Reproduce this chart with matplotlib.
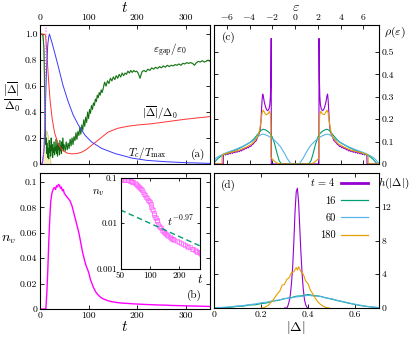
import numpy as np
import matplotlib
matplotlib.use('Agg')
import matplotlib.pyplot as plt
from matplotlib.lines import Line2D
from matplotlib.ticker import NullLocator

plt.rcParams['font.family'] = 'serif'
plt.rcParams['font.serif'] = ['cmr10']
plt.rcParams['mathtext.fontset'] = 'cm'
plt.rcParams['axes.formatter.use_mathtext'] = True
plt.rcParams['font.size'] = 7
plt.rcParams['xtick.direction'] = 'in'
plt.rcParams['ytick.direction'] = 'in'
plt.rcParams['xtick.major.size'] = 3
plt.rcParams['ytick.major.size'] = 3
plt.rcParams['xtick.major.width'] = 0.6
plt.rcParams['ytick.major.width'] = 0.6
plt.rcParams['axes.linewidth'] = 0.8

# ---- panel (a): gap, order parameter, temperature vs t
gap_t = np.r_[0, 3, 6, np.arange(8, 50), np.arange(50, 130, 2), np.arange(130, 200, 3), np.arange(202, 351, 4)]
gap_v = [1.0, 1.0, 0.99,
         0.9, 0.7, 0.45, 0.25, 0.15, 0.2, 0.08, 0.16, 0.05, 0.12,
         0.04, 0.18, 0.09, 0.14, 0.06, 0.2, 0.1, 0.15, 0.05, 0.12,
         0.09, 0.17, 0.07, 0.13, 0.1, 0.19, 0.08, 0.14, 0.06, 0.16,
         0.11, 0.13, 0.07, 0.18, 0.1, 0.14, 0.08, 0.17, 0.12, 0.2,
         0.1, 0.15,
         0.14, 0.1, 0.17, 0.11, 0.16, 0.12, 0.19, 0.14, 0.2, 0.15,
         0.21, 0.18, 0.24, 0.19, 0.25, 0.22, 0.28, 0.23, 0.3, 0.26,
         0.34, 0.29, 0.36, 0.32, 0.4, 0.35, 0.42, 0.39, 0.45, 0.42,
         0.47, 0.45, 0.5, 0.48, 0.53, 0.51, 0.55, 0.53, 0.57, 0.55,
         0.58, 0.63, 0.6, 0.64, 0.62, 0.66, 0.64, 0.67,
         0.65, 0.68, 0.66, 0.69, 0.67, 0.7, 0.68, 0.7,
         0.69, 0.715, 0.7, 0.72, 0.705, 0.72, 0.71, 0.715,
         0.7, 0.66, 0.71, 0.72, 0.71, 0.73, 0.72, 0.74, 0.73, 0.745,
         0.735, 0.75, 0.74, 0.755, 0.745, 0.76, 0.75, 0.76, 0.755, 0.765,
         0.76, 0.77, 0.76, 0.775, 0.77, 0.78, 0.775, 0.78, 0.775, 0.76,
         0.78, 0.79, 0.785, 0.795, 0.785, 0.79, 0.8, 0.79]

delta_t = [0, 8, 11.5, 14, 16, 18.5, 21, 25, 30, 37, 45, 55, 65, 75, 85,
           95, 105, 115, 125, 140, 160, 180, 200, 230, 260, 300, 350]
delta_v = [1.0, 1.0, 0.99, 0.87, 0.74, 0.6, 0.48, 0.35, 0.24, 0.16, 0.11, 0.085, 0.078, 0.08, 0.09,
           0.11, 0.14, 0.17, 0.2, 0.245, 0.275, 0.29, 0.3, 0.31, 0.325, 0.345, 0.365]

temp_t = [0, 5, 8, 10, 12, 14, 16, 18, 19.5, 21, 25, 30, 37, 47, 58, 68, 79, 93, 106, 127,
          155, 190, 220, 257, 300, 350]
temp_v = [0, 0.01, 0.1, 0.28, 0.55, 0.78, 0.92, 0.98, 1.0, 0.98, 0.93, 0.86, 0.76, 0.61, 0.48,
          0.38, 0.3, 0.22, 0.17, 0.12, 0.08, 0.045, 0.028, 0.018, 0.01, 0.005]

dot_t = [5, 8, 9.5, 10.5, 11.3, 12, 12.6]
dot_v = [0, 0.1, 0.3, 0.5, 0.7, 0.9, 1.1]

fill_t = [3, 6, 10, 13, 16, 19, 22]
fill_v = [0, 0.08, 0.2, 0.26, 0.22, 0.1, 0]

# ---- panel (b): vortex density
nv_t = np.r_[0, 12, 14, 16, 18, 20, 22, 24, 26, 28, 30, np.arange(32, 121, 2),
             np.arange(123, 151, 3), 155, 160, 165, 170, 175, 180, np.arange(190, 351, 10)]
nv_v = [0, 0, 0.012, 0.03, 0.052, 0.07, 0.084, 0.09, 0.093, 0.095, 0.0955,
        0.094, 0.097, 0.096, 0.098, 0.0975, 0.095, 0.096, 0.093, 0.094, 0.091,
        0.09, 0.089, 0.088, 0.087, 0.086, 0.085, 0.083, 0.081, 0.078, 0.075,
        0.072, 0.069, 0.066, 0.063, 0.06, 0.056, 0.052, 0.048, 0.044, 0.041,
        0.038, 0.035, 0.033, 0.031, 0.029, 0.026, 0.023, 0.021, 0.019, 0.017,
        0.0155, 0.014, 0.0128, 0.0118, 0.011,
        0.0098, 0.0089, 0.0082, 0.0077, 0.0072, 0.0068, 0.0064, 0.0061, 0.0058, 0.0056,
        0.0053, 0.005, 0.0048, 0.0046, 0.0045, 0.0044,
        0.0041, 0.0039, 0.0037, 0.0035, 0.0034, 0.0032, 0.0031, 0.003, 0.0028, 0.0027,
        0.0026, 0.0025, 0.0024, 0.0023, 0.0022, 0.0021, 0.002]
fit_t = [50, 330]
fit_v = [0.0195, 0.0032]

# ---- panel (c): density of states (positive half, mirrored)
p_e = np.r_[0, 2.09, 2.1, 2.13, 2.17, 2.22, 2.3, 2.4, 2.5, 2.6, 2.7, 2.8, 2.85, 2.9, 2.95,
            3.0, 3.05, 3.1, 3.2, 3.3, np.arange(3.4, 6.35, 0.1), 6.31, 7.4]
p_v = [0, 0, 0.56, 0.38, 0.3, 0.265, 0.245, 0.238, 0.242, 0.255, 0.275, 0.305, 0.312, 0.285, 0.24,
       0.19, 0.16, 0.145, 0.13, 0.12,
       0.105, 0.1, 0.095, 0.088, 0.085, 0.078, 0.08, 0.072, 0.075, 0.068,
       0.071, 0.063, 0.066, 0.058, 0.062, 0.055, 0.06, 0.052, 0.057, 0.05,
       0.055, 0.047, 0.053, 0.045, 0.05, 0.042, 0.048, 0.04, 0.045, 0.042, 0, 0]
g_e = [0, 1.2, 1.4, 1.6, 1.8, 2.0, 2.2, 2.4, 2.6, 2.8, 3.0, 3.2, 3.4, 3.6, 3.8,
       4.0, 4.4, 4.8, 5.2, 5.6, 6.0, 6.4, 6.7, 6.9, 7.1, 7.25, 7.4]
g_v = [0, 0, 0.015, 0.05, 0.09, 0.12, 0.137, 0.146, 0.152, 0.155, 0.15, 0.138, 0.125, 0.113, 0.103,
       0.095, 0.083, 0.072, 0.063, 0.055, 0.047, 0.038, 0.028, 0.018, 0.006, 0, 0]
b_e = [0, 0.35, 0.5, 0.7, 0.9, 1.1, 1.3, 1.5, 1.8, 2.1, 2.4, 2.7, 2.9, 3.1, 3.3,
       3.5, 3.8, 4.2, 4.6, 5.0, 5.4, 5.8, 6.2, 6.6, 6.9, 7.1, 7.3, 7.4]
b_v = [0, 0, 0.01, 0.025, 0.045, 0.062, 0.078, 0.09, 0.105, 0.117, 0.126, 0.132, 0.133, 0.128, 0.12,
       0.112, 0.1, 0.09, 0.079, 0.07, 0.062, 0.055, 0.047, 0.037, 0.028, 0.018, 0.005, 0]
o_e = [0, 1.4, 1.6, 1.8, 2.0, 2.12, 2.13, 2.16, 2.25, 2.35, 2.5, 2.6, 2.7, 2.8, 2.9,
       3.0, 3.1, 3.2, 3.3, 3.4, 3.6, 3.8, 4.0, 4.3, 4.6, 5.0, 5.4, 5.8, 6.2, 6.4, 6.42, 7.4]
o_v = [0, 0, 0.005, 0.012, 0.022, 0.03, 0.17, 0.22, 0.235, 0.226, 0.22, 0.222, 0.232, 0.24, 0.228,
       0.19, 0.155, 0.135, 0.122, 0.113, 0.1, 0.09, 0.084, 0.075, 0.068, 0.06, 0.055, 0.05, 0.045, 0.04, 0, 0]

# ---- panel (d): histograms of |Delta|
hp_x = [0.30, 0.31, 0.315, 0.32, 0.325, 0.33, 0.335, 0.34, 0.345, 0.35,
        0.355, 0.36, 0.365, 0.37, 0.375, 0.38, 0.385, 0.39, 0.395, 0.40]
hp_v = [0, 0, 0.3, 0.8, 1.6, 3.0, 5.0, 8.0, 11.5, 13.8, 14.2, 12.5, 9.5, 6.5, 4.0, 2.2, 1.0, 0.4, 0.1, 0]
hb_x = np.linspace(0, 0.7, 29)
hg_v = [0.0, 0.03, 0.06, 0.1, 0.2, 0.22, 0.35, 0.38, 0.52, 0.6, 0.82, 0.9, 1.12, 1.2, 1.4,
        1.45, 1.6, 1.48, 1.4, 1.22, 1.05, 0.88, 0.72, 0.55, 0.42, 0.28, 0.18, 0.1, 0.05]
hc_v = [0.0, 0.06, 0.1, 0.16, 0.24, 0.3, 0.4, 0.48, 0.62, 0.7, 0.86, 0.95, 1.1, 1.18, 1.32,
        1.38, 1.5, 1.42, 1.38, 1.2, 1.1, 0.9, 0.76, 0.6, 0.45, 0.32, 0.2, 0.12, 0.06]
ho_x = [0.20, 0.21, 0.22, 0.23, 0.24, 0.25, 0.26, 0.27, 0.28, 0.29, 0.30, 0.31, 0.32, 0.33, 0.34,
        0.35, 0.355, 0.36, 0.37, 0.38, 0.39, 0.40, 0.41, 0.42, 0.43, 0.44, 0.45, 0.46, 0.47, 0.48, 0.49]
ho_v = [0, 0.02, 0.15, 0.3, 0.6, 0.85, 1.3, 1.7, 2.0, 2.7, 2.8, 3.4, 3.6, 4.2, 4.3,
        4.8, 4.5, 4.9, 4.3, 4.0, 3.2, 2.9, 2.1, 1.7, 1.2, 0.8, 0.5, 0.3, 0.12, 0.05, 0]
labels_d = ['$t\\,=\\,4$', '16', '60', '180']

c_purple = '#9400d3'
c_teal = '#009e73'
c_blue = '#56b4e9'
c_orange = '#e69f00'

W, H = 411, 337
fig = plt.figure(figsize=(W / 100, H / 100), dpi=100)


def box(x0, y0, x1, y1):
    return [x0 / W, 1 - y1 / H, (x1 - x0) / W, (y1 - y0) / H]


def mirror(e, v):
    e = np.asarray(e, float)
    return np.r_[-e[::-1], e], np.r_[np.asarray(v)[::-1], v]


# (a)
ax = fig.add_axes(box(40, 25, 210, 164))
ax.fill_between(fill_t, 0, fill_v, color='#f6efc0', lw=0.4, edgecolor='#c8b860')
ax.plot(gap_t, gap_v, color='#5cb85c', lw=1.0, alpha=0.7)
ax.plot(gap_t, gap_v, color='#116611', lw=0.6)
ax.plot(delta_t, delta_v, color='#ff3333', lw=0.7)
ax.plot(temp_t, temp_v, color='#3a3aff', lw=0.7)
ax.plot(dot_t, dot_v, color='#ff44ff', lw=0.8, ls=':')
ax.set_xlim(0, 350)
ax.set_ylim(0, 1.07)
ax.set_xticks([0, 100, 200, 300])
ax.set_xticklabels(['0', '100', '200', '300'])
ax.set_yticks([0, 0.2, 0.4, 0.6, 0.8, 1.0])
ax.set_yticklabels(['0', '0.2', '0.4', '0.6', '0.8', '1.0'])
ax.tick_params(top=True, right=True, labeltop=True, labelbottom=False, pad=2)
ax.xaxis.set_label_position('top')
ax.set_xlabel('$t$', fontsize=11, labelpad=1)
ax.text(268, 0.875, '$\\varepsilon_{\\rm gap}/\\varepsilon_0$', fontsize=8, ha='center', va='center')
ax.text(248, 0.39, '$|\\overline{\\Delta}|/\\Delta_0$', fontsize=8, ha='center', va='center')
ax.text(222, 0.085, '$T_c/T_{\\rm max}$', fontsize=8, ha='center', va='center')
ax.text(0.93, 0.07, '(a)', transform=ax.transAxes, fontsize=8, ha='center', va='center')
fig.text(12 / W, 1 - 97 / H, '$\\frac{|\\overline{\\Delta}|}{\\Delta_0}$', fontsize=12, ha='center', va='center')

# (b)
ax = fig.add_axes(box(40, 173, 210, 309))
ax.plot(nv_t, nv_v, color='#ff00ff', lw=1.0)
ax.set_xlim(0, 350)
ax.set_ylim(0, 0.107)
ax.set_xticks([0, 100, 200, 300])
ax.set_xticklabels(['0', '100', '200', '300'])
ax.set_yticks([0, 0.02, 0.04, 0.06, 0.08, 0.1])
ax.set_yticklabels(['0', '0.02', '0.04', '0.06', '0.08', '0.1'])
ax.tick_params(top=True, right=True, pad=2)
ax.set_xlabel('$t$', fontsize=11, labelpad=0)
ax.text(0.91, 0.1, '(b)', transform=ax.transAxes, fontsize=8, ha='center', va='center')
fig.text(8 / W, 1 - 240 / H, '$n_v$', fontsize=10, ha='center', va='center')

# inset
ai = fig.add_axes(box(120.5, 177.5, 200, 269))
ai.set_xscale('log')
ai.set_yscale('log')
sel = nv_t >= 50
ai.plot(nv_t[sel], np.asarray(nv_v)[sel], ls='none', marker='s', ms=2.2, mfc='none',
        mec='#ff55ff', mew=0.4)
ai.plot(fit_t, fit_v, color=c_teal, lw=1.0, dashes=(4, 2.5))
ai.set_xlim(50, 330)
ai.set_ylim(0.001, 0.1)
ai.xaxis.set_minor_locator(NullLocator())
ai.yaxis.set_minor_locator(NullLocator())
ai.set_xticks([50, 100, 200])
ai.set_xticklabels(['50', '100', '200'])
ai.set_yticks([0.001, 0.01, 0.1])
ai.set_yticklabels(['0.001', '0.01', '0.1'])
ai.tick_params(top=True, right=True, labelsize=6.5, pad=2, length=2.5)
ai.text(1.0, -0.045, '$t$', transform=ai.transAxes, fontsize=9, ha='center', va='top')
ai.text(150, 0.0115, '$t^{-0.97}$', fontsize=8, ha='left', va='center')
fig.text(98 / W, 1 - 193 / H, '$n_v$', fontsize=8, ha='center', va='center')

# (c)
ax = fig.add_axes(box(214, 25, 378.5, 164))
for e, v, c in [(p_e, p_v, c_purple), (g_e, g_v, c_teal), (b_e, b_v, c_blue), (o_e, o_v, c_orange)]:
    xe, ye = mirror(e, v)
    ax.plot(xe, ye, color=c, lw=0.8)
ax.set_xlim(-7.12, 7.32)
ax.set_ylim(0, 0.62)
ax.set_xticks([-6, -4, -2, 0, 2, 4, 6])
ax.set_xticklabels(['$-6$', '$-4$', '$-2$', '0', '2', '4', '6'])
ax.set_yticks([0, 0.1, 0.2, 0.3, 0.4, 0.5])
ax.set_yticklabels(['0', '0.1', '0.2', '0.3', '0.4', '0.5'])
ax.tick_params(top=True, right=True, labeltop=True, labelbottom=False,
               labelright=True, labelleft=False, pad=2)
ax.xaxis.set_label_position('top')
ax.set_xlabel('$\\varepsilon$', fontsize=10, labelpad=1)
ax.text(0.09, 0.91, '(c)', transform=ax.transAxes, fontsize=8, ha='center', va='center')
fig.text(395 / W, 1 - 32 / H, '$\\rho(\\varepsilon)$', fontsize=8.5, ha='center', va='center')

# (d)
ax = fig.add_axes(box(214, 173, 378.5, 308))
ax.plot(hp_x, hp_v, color=c_purple, lw=0.8)
ax.plot(hb_x, hg_v, color=c_teal, lw=0.8)
ax.plot(hb_x, hc_v, color=c_blue, lw=0.8)
ax.plot(ho_x, ho_v, color=c_orange, lw=0.8)
ax.set_xlim(0, 0.7)
ax.set_ylim(0, 16)
ax.set_xticks([0, 0.2, 0.4, 0.6])
ax.set_xticklabels(['0', '0.2', '0.4', '0.6'])
ax.set_yticks([0, 4, 8, 12, 16])
ax.set_yticklabels(['0', '4', '8', '12', ''])
ax.tick_params(top=True, right=True, labelright=True, labelleft=False, pad=2)
ax.set_xlabel('$|\\Delta|$', fontsize=10, labelpad=0)
ax.text(0.09, 0.91, '(d)', transform=ax.transAxes, fontsize=8, ha='center', va='center')
handles = [Line2D([], [], color=c_purple, lw=2.0), Line2D([], [], color=c_teal, lw=0.9),
           Line2D([], [], color=c_blue, lw=0.9), Line2D([], [], color=c_orange, lw=0.9)]
ax.legend(handles, labels_d, loc='upper right', bbox_to_anchor=(0.935, 0.975), frameon=False,
          markerfirst=False, fontsize=7.5, handlelength=2.6, handletextpad=0.5,
          labelspacing=0.75, borderpad=0, borderaxespad=0)
fig.text(394 / W, 1 - 183 / H, '$h(|\\Delta|)$', fontsize=8, ha='center', va='center')

fig.savefig('out.png', dpi=100)
